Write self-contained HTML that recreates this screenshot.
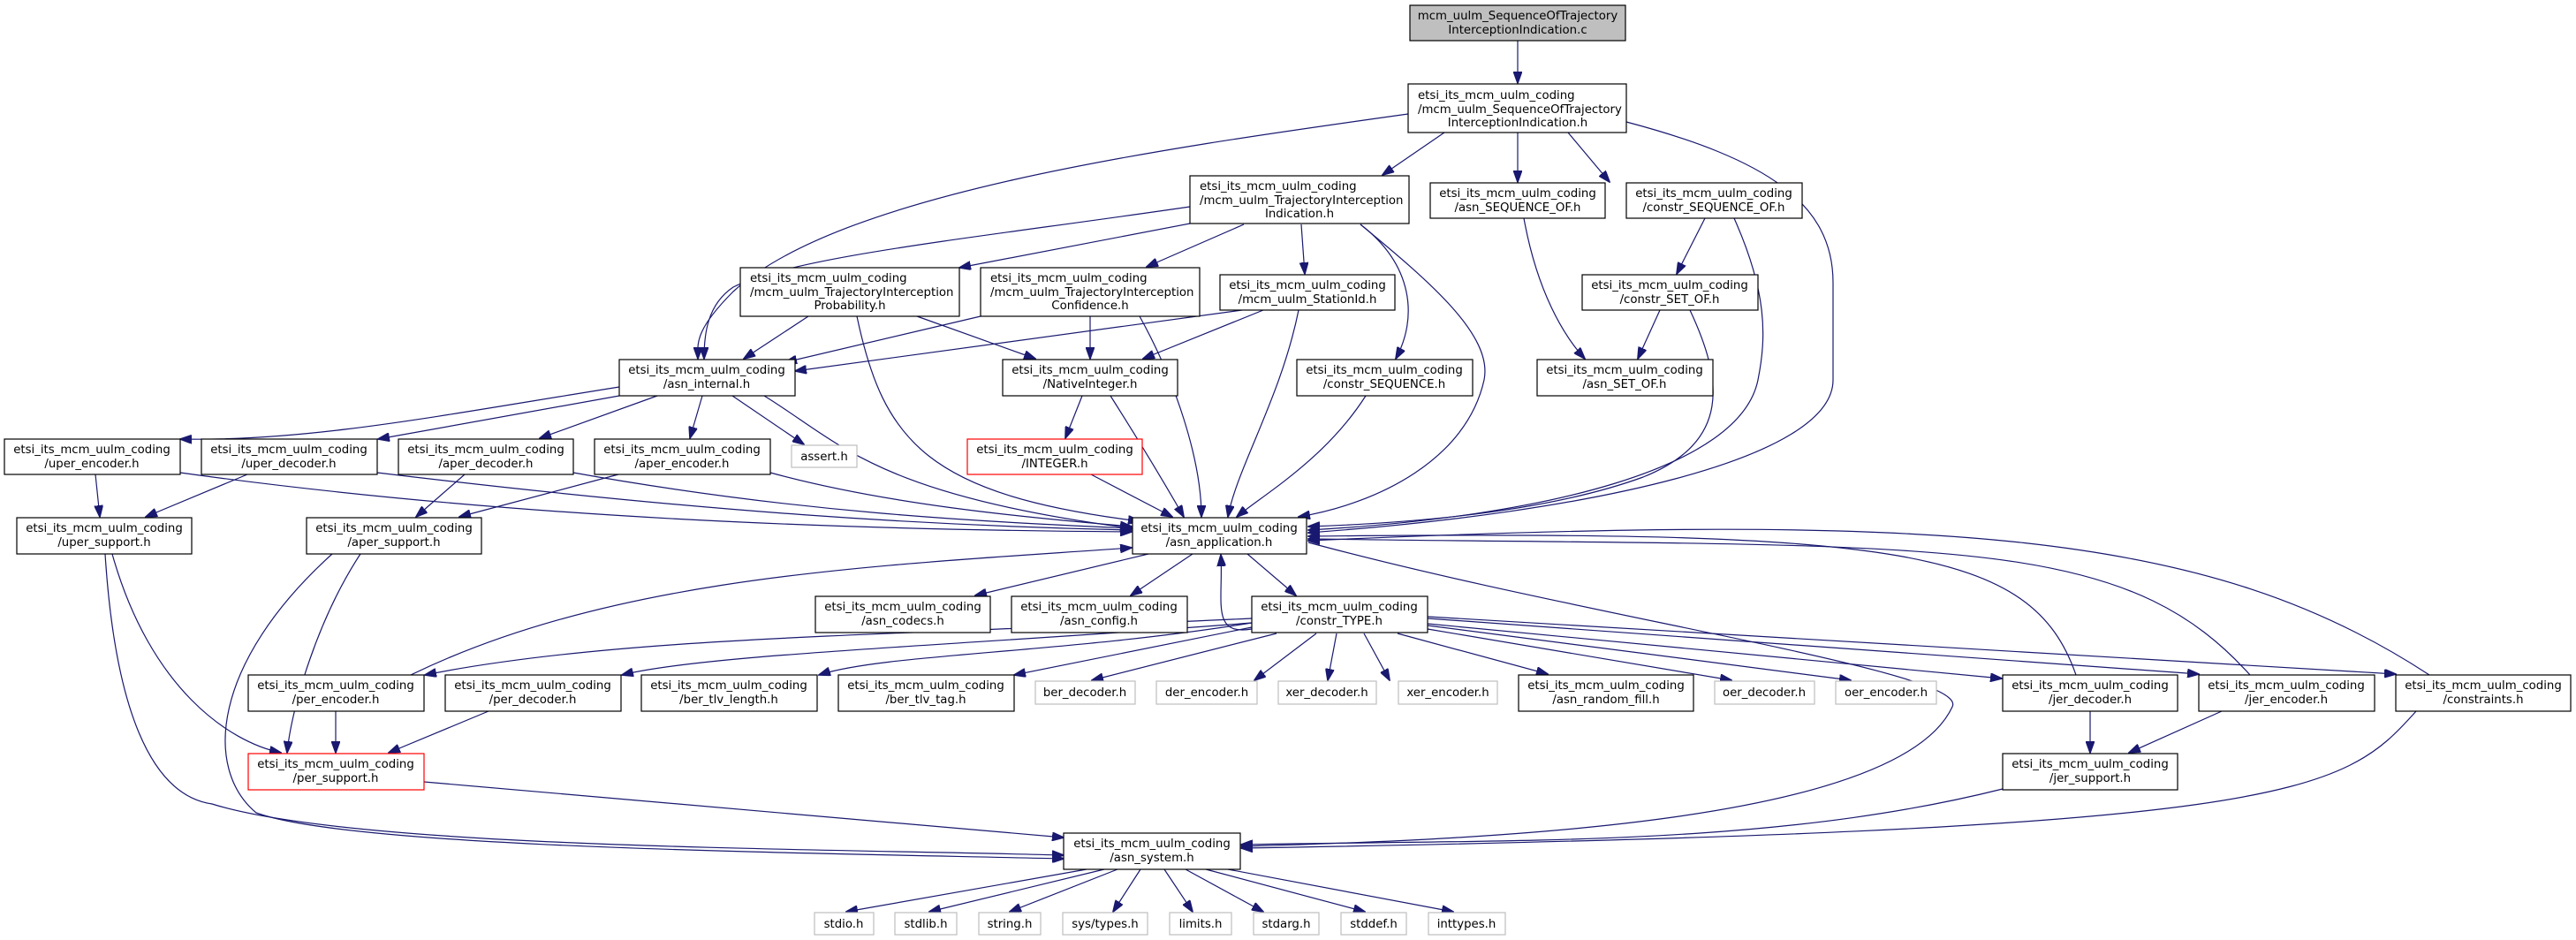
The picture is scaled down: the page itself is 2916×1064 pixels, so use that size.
<!DOCTYPE html>
<html><head><meta charset="utf-8"><style>
html,body{margin:0;padding:0;background:#fff;}
svg{display:block;}
text{font-family:"DejaVu Sans","Liberation Sans",sans-serif;font-size:13.3px;fill:#000;}
.n{fill:#fff;stroke:#000;stroke-width:1.2;}
.g{fill:#fff;stroke:#bfbfbf;stroke-width:1.2;}
.r{fill:#fff;stroke:#ff0000;stroke-width:1.2;}
.e{fill:none;stroke:#191970;stroke-width:1.2;}
</style></head><body>
<svg width="2916" height="1064" viewBox="0 0 2916 1064" xmlns="http://www.w3.org/2000/svg">
<defs><marker id="a" markerWidth="14" markerHeight="10" refX="13" refY="5" orient="auto" markerUnits="userSpaceOnUse"><path d="M0,0 L14,5 L0,10 z" fill="#191970" stroke="#191970"/></marker></defs>
<g class="edges">
<path class="e" marker-end="url(#a)" d="M1718,46 L1718,94"/>
<path class="e" marker-end="url(#a)" d="M1635,150 L1565,198"/>
<path class="e" marker-end="url(#a)" d="M1718,150 L1718,206"/>
<path class="e" marker-end="url(#a)" d="M1775,150 L1822,206"/>
<path class="e" marker-end="url(#a)" d="M1594,129 C1300,170 950,220 830,330 C785,375 790,390 790,406"/>
<path class="e" marker-end="url(#a)" d="M1841,138 C2000,180 2075,230 2075,320 L2075,430 C2075,520 1800,580 1481,603"/>
<path class="e" marker-end="url(#a)" d="M1347,234 C1100,270 900,290 830,325 C800,345 797,380 797,406"/>
<path class="e" marker-end="url(#a)" d="M1347,253 L1086,303"/>
<path class="e" marker-end="url(#a)" d="M1408,254 L1298,302"/>
<path class="e" marker-end="url(#a)" d="M1473,254 L1477,310"/>
<path class="e" marker-end="url(#a)" d="M1540,254 C1600,300 1605,360 1580,406"/>
<path class="e" marker-end="url(#a)" d="M1540,254 C1620,320 1690,380 1680,430 C1660,520 1560,570 1470,585"/>
<path class="e" marker-end="url(#a)" d="M915,358 L842,406"/>
<path class="e" marker-end="url(#a)" d="M1038,358 L1172,406"/>
<path class="e" marker-end="url(#a)" d="M970,358 C1000,500 1050,560 1290,590"/>
<path class="e" marker-end="url(#a)" d="M1110,358 L889,410"/>
<path class="e" marker-end="url(#a)" d="M1234,358 L1234,406"/>
<path class="e" marker-end="url(#a)" d="M1290,358 C1330,430 1360,520 1360,585"/>
<path class="e" marker-end="url(#a)" d="M1406,351 L900,420"/>
<path class="e" marker-end="url(#a)" d="M1430,351 L1294,406"/>
<path class="e" marker-end="url(#a)" d="M1470,351 C1450,450 1400,530 1390,585"/>
<path class="e" marker-end="url(#a)" d="M1546,448 C1500,520 1430,560 1400,585"/>
<path class="e" marker-end="url(#a)" d="M1725,247 C1740,330 1770,380 1794,406"/>
<path class="e" marker-end="url(#a)" d="M1930,247 L1898,310"/>
<path class="e" marker-end="url(#a)" d="M1963,247 C2000,330 2000,380 1990,430 C1970,530 1750,585 1481,600"/>
<path class="e" marker-end="url(#a)" d="M1879,351 L1854,406"/>
<path class="e" marker-end="url(#a)" d="M1913,351 C1950,430 1960,500 1860,540 C1750,580 1600,592 1481,596"/>
<path class="e" marker-end="url(#a)" d="M701,438 C500,470 350,500 204,497"/>
<path class="e" marker-end="url(#a)" d="M701,448 L428,497"/>
<path class="e" marker-end="url(#a)" d="M744,448 L611,496"/>
<path class="e" marker-end="url(#a)" d="M795,448 L781,496"/>
<path class="e" marker-end="url(#a)" d="M829,448 L910,503"/>
<path class="e" marker-end="url(#a)" d="M865,448 C950,500 990,560 1281,598"/>
<path class="e" marker-end="url(#a)" d="M1225,448 L1206,496"/>
<path class="e" marker-end="url(#a)" d="M1257,448 C1290,500 1320,550 1340,585"/>
<path class="e" marker-end="url(#a)" d="M1235,537 L1327,585"/>
<path class="e" marker-end="url(#a)" d="M108,537 L113,585"/>
<path class="e" marker-end="url(#a)" d="M204,535 C600,590 1000,600 1281,602"/>
<path class="e" marker-end="url(#a)" d="M280,537 L165,585"/>
<path class="e" marker-end="url(#a)" d="M427,535 C800,580 1050,595 1281,600"/>
<path class="e" marker-end="url(#a)" d="M526,537 L471,585"/>
<path class="e" marker-end="url(#a)" d="M649,535 C900,580 1100,590 1281,598"/>
<path class="e" marker-end="url(#a)" d="M700,537 L520,585"/>
<path class="e" marker-end="url(#a)" d="M872,535 C1000,570 1150,585 1281,596"/>
<path class="e" marker-end="url(#a)" d="M127,627 C170,780 260,840 318,852"/>
<path class="e" marker-end="url(#a)" d="M119,627 C130,800 170,900 240,910 C400,960 900,960 1204,968"/>
<path class="e" marker-end="url(#a)" d="M408,627 C360,700 330,800 325,852"/>
<path class="e" marker-end="url(#a)" d="M376,627 C240,750 230,870 290,920 C400,960 900,965 1204,972"/>
<path class="e" marker-end="url(#a)" d="M1300,627 L1104,674"/>
<path class="e" marker-end="url(#a)" d="M1350,627 L1280,674"/>
<path class="e" marker-end="url(#a)" d="M1412,627 L1467,674"/>
<path class="e" marker-end="url(#a)" d="M465,764 C700,650 1000,640 1281,620"/>
<path class="e" marker-end="url(#a)" d="M1417,712 C1370,720 1385,680 1382,628"/>
<path class="e" marker-end="url(#a)" d="M2350,764 C2300,620 2150,600 1481,607"/>
<path class="e" marker-end="url(#a)" d="M2547,764 C2400,600 2200,620 1481,610"/>
<path class="e" marker-end="url(#a)" d="M2750,764 C2500,600 2200,580 1481,612"/>
<path class="e" marker-end="url(#a)" d="M1481,614 C1800,700 2230,760 2210,800 C2150,930 1700,950 1405,958"/>
<path class="e" marker-end="url(#a)" d="M1417,700 C1000,720 700,720 481,764"/>
<path class="e" marker-end="url(#a)" d="M1417,705 C1100,730 800,740 704,764"/>
<path class="e" marker-end="url(#a)" d="M1417,705 C1200,740 1000,740 927,764"/>
<path class="e" marker-end="url(#a)" d="M1417,710 L1148,764"/>
<path class="e" marker-end="url(#a)" d="M1445,717 L1236,770"/>
<path class="e" marker-end="url(#a)" d="M1490,717 L1420,770"/>
<path class="e" marker-end="url(#a)" d="M1513,717 L1503,770"/>
<path class="e" marker-end="url(#a)" d="M1544,717 L1573,770"/>
<path class="e" marker-end="url(#a)" d="M1582,717 L1752,763"/>
<path class="e" marker-end="url(#a)" d="M1616,712 L1960,770"/>
<path class="e" marker-end="url(#a)" d="M1616,708 L2095,770"/>
<path class="e" marker-end="url(#a)" d="M1616,706 L2266,768"/>
<path class="e" marker-end="url(#a)" d="M1616,700 L2489,763"/>
<path class="e" marker-end="url(#a)" d="M1616,698 L2712,763"/>
<path class="e" marker-end="url(#a)" d="M380,805 L380,852"/>
<path class="e" marker-end="url(#a)" d="M553,805 L440,852"/>
<path class="e" marker-end="url(#a)" d="M480,885 L1204,948"/>
<path class="e" marker-end="url(#a)" d="M2366,805 L2366,852"/>
<path class="e" marker-end="url(#a)" d="M2515,805 L2410,852"/>
<path class="e" marker-end="url(#a)" d="M2267,893 C2000,960 1700,950 1405,956"/>
<path class="e" marker-end="url(#a)" d="M2735,805 C2650,900 2600,940 1405,960"/>
<path class="e" marker-end="url(#a)" d="M1230,984 L958,1032"/>
<path class="e" marker-end="url(#a)" d="M1250,984 L1052,1032"/>
<path class="e" marker-end="url(#a)" d="M1265,984 L1143,1032"/>
<path class="e" marker-end="url(#a)" d="M1291,984 L1260,1032"/>
<path class="e" marker-end="url(#a)" d="M1318,984 L1350,1032"/>
<path class="e" marker-end="url(#a)" d="M1342,984 L1430,1032"/>
<path class="e" marker-end="url(#a)" d="M1365,984 L1545,1032"/>
<path class="e" marker-end="url(#a)" d="M1390,984 L1645,1032"/>
</g>
<g class="nodes" text-anchor="middle">
<rect x="1596" y="6" width="244" height="40" fill="#bfbfbf" stroke="#000" stroke-width="1.2"/>
<text x="1718" y="22">mcm_uulm_SequenceOfTrajectory</text><text x="1718" y="38">InterceptionIndication.c</text>

<rect class="n" x="1594" y="95" width="247" height="55"/>
<text x="1605" y="112" text-anchor="start">etsi_its_mcm_uulm_coding</text><text x="1605" y="128" text-anchor="start">/mcm_uulm_SequenceOfTrajectory</text><text x="1718" y="143">InterceptionIndication.h</text>

<rect class="n" x="1347" y="199" width="248" height="54"/>
<text x="1358" y="215" text-anchor="start">etsi_its_mcm_uulm_coding</text><text x="1358" y="231" text-anchor="start">/mcm_uulm_TrajectoryInterception</text><text x="1471" y="246">Indication.h</text>

<rect class="n" x="1619" y="207" width="198" height="40"/>
<text x="1718" y="223">etsi_its_mcm_uulm_coding</text><text x="1718" y="239">/asn_SEQUENCE_OF.h</text>
<rect class="n" x="1841" y="207" width="199" height="40"/>
<text x="1940" y="223">etsi_its_mcm_uulm_coding</text><text x="1940" y="239">/constr_SEQUENCE_OF.h</text>

<rect class="n" x="838" y="303" width="248" height="55"/>
<text x="849" y="319" text-anchor="start">etsi_its_mcm_uulm_coding</text><text x="849" y="335" text-anchor="start">/mcm_uulm_TrajectoryInterception</text><text x="962" y="350">Probability.h</text>
<rect class="n" x="1110" y="303" width="248" height="55"/>
<text x="1121" y="319" text-anchor="start">etsi_its_mcm_uulm_coding</text><text x="1121" y="335" text-anchor="start">/mcm_uulm_TrajectoryInterception</text><text x="1234" y="350">Confidence.h</text>
<rect class="n" x="1381" y="311" width="198" height="40"/>
<text x="1480" y="327">etsi_its_mcm_uulm_coding</text><text x="1480" y="343">/mcm_uulm_StationId.h</text>
<rect class="n" x="1791" y="311" width="199" height="40"/>
<text x="1890" y="327">etsi_its_mcm_uulm_coding</text><text x="1890" y="343">/constr_SET_OF.h</text>

<rect class="n" x="701" y="407" width="199" height="41"/>
<text x="800" y="423">etsi_its_mcm_uulm_coding</text><text x="800" y="439">/asn_internal.h</text>
<rect class="n" x="1135" y="407" width="198" height="41"/>
<text x="1234" y="423">etsi_its_mcm_uulm_coding</text><text x="1234" y="439">/NativeInteger.h</text>
<rect class="n" x="1468" y="407" width="199" height="41"/>
<text x="1567" y="423">etsi_its_mcm_uulm_coding</text><text x="1567" y="439">/constr_SEQUENCE.h</text>
<rect class="n" x="1740" y="407" width="199" height="41"/>
<text x="1839" y="423">etsi_its_mcm_uulm_coding</text><text x="1839" y="439">/asn_SET_OF.h</text>

<rect class="n" x="5" y="497" width="199" height="40"/>
<text x="104" y="513">etsi_its_mcm_uulm_coding</text><text x="104" y="529">/uper_encoder.h</text>
<rect class="n" x="228" y="497" width="199" height="40"/>
<text x="327" y="513">etsi_its_mcm_uulm_coding</text><text x="327" y="529">/uper_decoder.h</text>
<rect class="n" x="451" y="497" width="198" height="40"/>
<text x="550" y="513">etsi_its_mcm_uulm_coding</text><text x="550" y="529">/aper_decoder.h</text>
<rect class="n" x="673" y="497" width="199" height="40"/>
<text x="772" y="513">etsi_its_mcm_uulm_coding</text><text x="772" y="529">/aper_encoder.h</text>
<rect class="g" x="896" y="504" width="74" height="25"/>
<text x="933" y="521">assert.h</text>
<rect class="r" x="1095" y="497" width="198" height="40"/>
<text x="1194" y="513">etsi_its_mcm_uulm_coding</text><text x="1194" y="529">/INTEGER.h</text>

<rect class="n" x="19" y="586" width="198" height="41"/>
<text x="118" y="602">etsi_its_mcm_uulm_coding</text><text x="118" y="618">/uper_support.h</text>
<rect class="n" x="347" y="586" width="198" height="41"/>
<text x="446" y="602">etsi_its_mcm_uulm_coding</text><text x="446" y="618">/aper_support.h</text>
<rect class="n" x="1282" y="586" width="197" height="41"/>
<text x="1380" y="602">etsi_its_mcm_uulm_coding</text><text x="1380" y="618">/asn_application.h</text>

<rect class="n" x="923" y="675" width="198" height="41"/>
<text x="1022" y="691">etsi_its_mcm_uulm_coding</text><text x="1022" y="707">/asn_codecs.h</text>
<rect class="n" x="1145" y="675" width="199" height="41"/>
<text x="1244" y="691">etsi_its_mcm_uulm_coding</text><text x="1244" y="707">/asn_config.h</text>
<rect class="n" x="1417" y="675" width="199" height="41"/>
<text x="1516" y="691">etsi_its_mcm_uulm_coding</text><text x="1516" y="707">/constr_TYPE.h</text>

<rect class="n" x="281" y="764" width="199" height="41"/>
<text x="380" y="780">etsi_its_mcm_uulm_coding</text><text x="380" y="796">/per_encoder.h</text>
<rect class="n" x="504" y="764" width="199" height="41"/>
<text x="603" y="780">etsi_its_mcm_uulm_coding</text><text x="603" y="796">/per_decoder.h</text>
<rect class="n" x="726" y="764" width="199" height="41"/>
<text x="825" y="780">etsi_its_mcm_uulm_coding</text><text x="825" y="796">/ber_tlv_length.h</text>
<rect class="n" x="949" y="764" width="199" height="41"/>
<text x="1048" y="780">etsi_its_mcm_uulm_coding</text><text x="1048" y="796">/ber_tlv_tag.h</text>
<rect class="g" x="1172" y="771" width="113" height="26"/><text x="1228" y="788">ber_decoder.h</text>
<rect class="g" x="1309" y="771" width="114" height="26"/><text x="1366" y="788">der_encoder.h</text>
<rect class="g" x="1447" y="771" width="111" height="26"/><text x="1502" y="788">xer_decoder.h</text>
<rect class="g" x="1583" y="771" width="112" height="26"/><text x="1639" y="788">xer_encoder.h</text>
<rect class="n" x="1719" y="764" width="198" height="41"/>
<text x="1818" y="780">etsi_its_mcm_uulm_coding</text><text x="1818" y="796">/asn_random_fill.h</text>
<rect class="g" x="1941" y="771" width="113" height="26"/><text x="1997" y="788">oer_decoder.h</text>
<rect class="g" x="2078" y="771" width="114" height="26"/><text x="2135" y="788">oer_encoder.h</text>
<rect class="n" x="2267" y="764" width="198" height="41"/>
<text x="2366" y="780">etsi_its_mcm_uulm_coding</text><text x="2366" y="796">/jer_decoder.h</text>
<rect class="n" x="2489" y="764" width="199" height="41"/>
<text x="2588" y="780">etsi_its_mcm_uulm_coding</text><text x="2588" y="796">/jer_encoder.h</text>
<rect class="n" x="2712" y="764" width="198" height="41"/>
<text x="2811" y="780">etsi_its_mcm_uulm_coding</text><text x="2811" y="796">/constraints.h</text>

<rect class="r" x="281" y="853" width="199" height="41"/>
<text x="380" y="869">etsi_its_mcm_uulm_coding</text><text x="380" y="885">/per_support.h</text>
<rect class="n" x="2267" y="853" width="198" height="41"/>
<text x="2366" y="869">etsi_its_mcm_uulm_coding</text><text x="2366" y="885">/jer_support.h</text>

<rect class="n" x="1204" y="943" width="200" height="41"/>
<text x="1304" y="959">etsi_its_mcm_uulm_coding</text><text x="1304" y="975">/asn_system.h</text>

<rect class="g" x="922" y="1033" width="67" height="25"/><text x="955" y="1050">stdio.h</text>
<rect class="g" x="1013" y="1033" width="70" height="25"/><text x="1048" y="1050">stdlib.h</text>
<rect class="g" x="1108" y="1033" width="70" height="25"/><text x="1143" y="1050">string.h</text>
<rect class="g" x="1203" y="1033" width="96" height="25"/><text x="1251" y="1050">sys/types.h</text>
<rect class="g" x="1324" y="1033" width="70" height="25"/><text x="1359" y="1050">limits.h</text>
<rect class="g" x="1419" y="1033" width="74" height="25"/><text x="1456" y="1050">stdarg.h</text>
<rect class="g" x="1518" y="1033" width="74" height="25"/><text x="1555" y="1050">stddef.h</text>
<rect class="g" x="1617" y="1033" width="87" height="25"/><text x="1660" y="1050">inttypes.h</text>
</g>
</svg>
</body></html>
